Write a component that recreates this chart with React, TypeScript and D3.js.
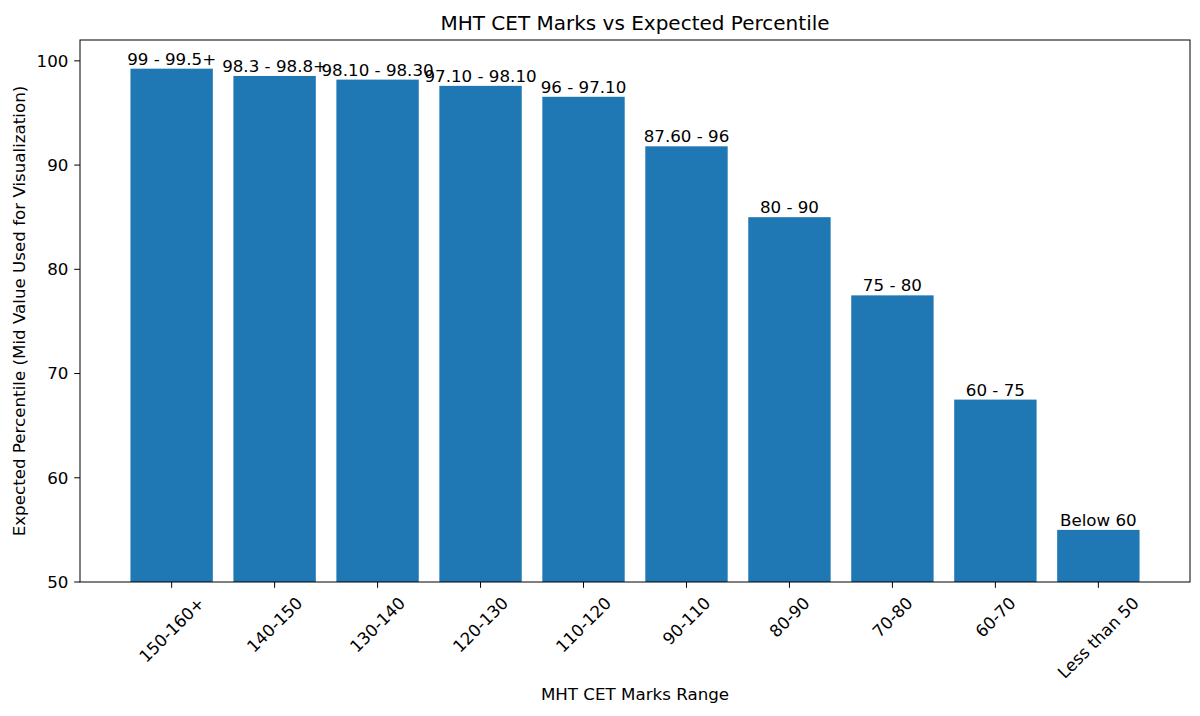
import React from "react"
import { scaleLinear, scaleBand } from "d3"

const categories = [
  "150-160+",
  "140-150",
  "130-140",
  "120-130",
  "110-120",
  "90-110",
  "80-90",
  "70-80",
  "60-70",
  "Less than 50",
]
const percentiles = [99.25, 98.55, 98.2, 97.6, 96.55, 91.8, 85, 77.5, 67.5, 55]
const rangeLabels = [
  "99 - 99.5+",
  "98.3 - 98.8+",
  "98.10 - 98.30",
  "97.10 - 98.10",
  "96 - 97.10",
  "87.60 - 96",
  "80 - 90",
  "75 - 80",
  "60 - 75",
  "Below 60",
]
const yTicks = [50, 60, 70, 80, 90, 100]

const W = 1200
const H = 716
const FONT = "DejaVu Sans, sans-serif"
const FS = 16.7
const TICK = 5.8

const margin = { top: 40, right: 10, bottom: 134, left: 80 }
const plotW = W - margin.left - margin.right
const plotH = H - margin.top - margin.bottom

let measureCtx: CanvasRenderingContext2D | null = null
function textWidth(s: string) {
  if (!measureCtx) {
    measureCtx = document.createElement("canvas").getContext("2d")
  }
  if (!measureCtx) return s.length * FS * 0.6
  measureCtx.font = `${FS}px DejaVu Sans`
  return measureCtx.measureText(s).width
}

export default function App() {
  // matplotlib style: bars from -0.4..9.4 with 5% margins
  const n = categories.length
  const span = n - 0.2
  const pad = span * 0.05
  const xPos = scaleLinear()
    .domain([-0.4 - pad, n - 1 + 0.4 + pad])
    .range([0, plotW])
  const band = scaleBand<string>()
    .domain(categories)
    .range([xPos(-0.5), xPos(n - 0.5)])
    .paddingInner(0.2)
    .paddingOuter(0.1)

  const y = scaleLinear().domain([50, 102]).range([plotH, 0])

  return (
    <svg
      width={W}
      height={H}
      style={{ position: "absolute", left: 0, top: 0, background: "#fff" }}
      fontFamily={FONT}
    >
      <g transform={`translate(${margin.left},${margin.top})`}>
        {categories.map((c, i) => (
          <rect
            key={c}
            x={band(c)!}
            y={y(percentiles[i])}
            width={band.bandwidth()}
            height={plotH - y(percentiles[i])}
            fill="#1f77b4"
          />
        ))}

        {categories.map((c, i) => (
          <text
            key={"l" + c}
            x={band(c)! + band.bandwidth() / 2}
            y={y(percentiles[i]) - 4}
            textAnchor="middle"
            fontSize={FS}
            fill="#000"
          >
            {rangeLabels[i]}
          </text>
        ))}

        {/* frame */}
        <rect x={0} y={0} width={plotW} height={plotH} fill="none" stroke="#000" strokeWidth={1} />

        {/* y axis */}
        {yTicks.map((t) => (
          <g key={t} transform={`translate(0,${y(t)})`}>
            <line x1={-TICK} x2={0} stroke="#000" />
            <text x={-TICK * 2} dy="0.35em" textAnchor="end" fontSize={FS} fill="#000">
              {t}
            </text>
          </g>
        ))}

        {/* x axis */}
        {categories.map((c) => {
          const cx = band(c)! + band.bandwidth() / 2
          const w = textWidth(c)
          const half = ((w + FS * 1.1) * Math.SQRT1_2) / 2
          const cy = plotH + TICK * 2 + half
          return (
            <g key={"t" + c}>
              <line x1={cx} x2={cx} y1={plotH} y2={plotH + TICK} stroke="#000" />
              <text
                transform={`translate(${cx},${cy}) rotate(-45)`}
                textAnchor="middle"
                dy="0.35em"
                fontSize={FS}
                fill="#000"
              >
                {c}
              </text>
            </g>
          )
        })}
      </g>

      <text x={margin.left + plotW / 2} y={29.5} textAnchor="middle" fontSize={20} fill="#000">
        MHT CET Marks vs Expected Percentile
      </text>
      <text x={margin.left + plotW / 2} y={700} textAnchor="middle" fontSize={FS} fill="#000">
        MHT CET Marks Range
      </text>
      <text
        transform={`translate(25,${margin.top + plotH / 2}) rotate(-90)`}
        textAnchor="middle"
        fontSize={FS}
        fill="#000"
      >
        Expected Percentile (Mid Value Used for Visualization)
      </text>
    </svg>
  )
}
